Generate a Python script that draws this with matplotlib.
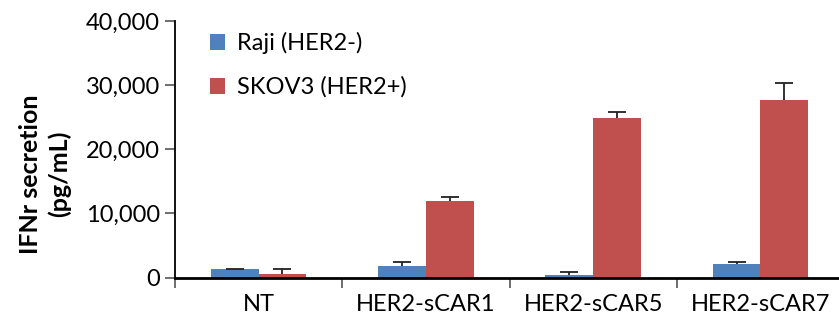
import numpy as np
import matplotlib.pyplot as plt
from matplotlib.ticker import FuncFormatter

plt.rcParams['font.family'] = ['Lato', 'DejaVu Sans']

# Data
categories = ['NT', 'HER2-sCAR1', 'HER2-sCAR5', 'HER2-sCAR7']
raji = [1250, 1800, 420, 2150]
raji_err = [120, 550, 400, 260]
skov3 = [480, 11900, 24900, 27700]
skov3_err = [830, 600, 900, 2650]

fig = plt.figure(figsize=(8.39, 3.23), dpi=100)
ax = fig.add_axes([175 / 839, 45.5 / 323, 669 / 839, 256.5 / 323])

x = np.arange(len(categories))
w = 0.285
err_kw = dict(ecolor='#222222', elinewidth=1.3, capsize=6.5, capthick=1.3)
b1 = ax.bar(x - w / 2, raji, w, color='#4F81BD', label='Raji (HER2-)',
            yerr=[np.zeros(len(raji)), raji_err], error_kw=err_kw)
b2 = ax.bar(x + w / 2, skov3, w, color='#C0504D', label='SKOV3 (HER2+)',
            yerr=[np.zeros(len(skov3)), skov3_err], error_kw=err_kw)
# only the upper caps are shown
for b in (b1, b2):
    b.errorbar.lines[1][0].set_visible(False)

ax.set_xlim(-0.5, 3.5)
ax.set_ylim(0, 40000)
ax.set_yticks([0, 10000, 20000, 30000, 40000])
ax.yaxis.set_major_formatter(FuncFormatter(lambda v, p: f'{int(v):,}'))
ax.set_xticks(x)
ax.set_xticklabels(categories)
ax.set_xticks(np.arange(-0.5, 4, 1), minor=True)
ax.tick_params(axis='x', which='major', length=0, labelsize=17, pad=12)
ax.tick_params(axis='x', which='minor', length=7, width=1.2, color='#555555', direction='out')
ax.tick_params(axis='y', length=7, width=1.2, color='#555555', labelsize=17, pad=4)

for s in ['top', 'right']:
    ax.spines[s].set_visible(False)
ax.spines['left'].set_linewidth(1.3)
ax.spines['bottom'].set_linewidth(2)

fig.text(45 / 839, 149 / 323, 'IFNr secretion\n(pg/mL)', rotation=90, ha='center', va='center',
         fontsize=18, fontweight='bold', linespacing=1.3)

ax.legend(loc='upper left', bbox_to_anchor=(0.02, 1.04), frameon=False, fontsize=17,
          handlelength=0.65, handleheight=0.65, handletextpad=0.5, labelspacing=0.95)

fig.savefig('out.png', dpi=100)
